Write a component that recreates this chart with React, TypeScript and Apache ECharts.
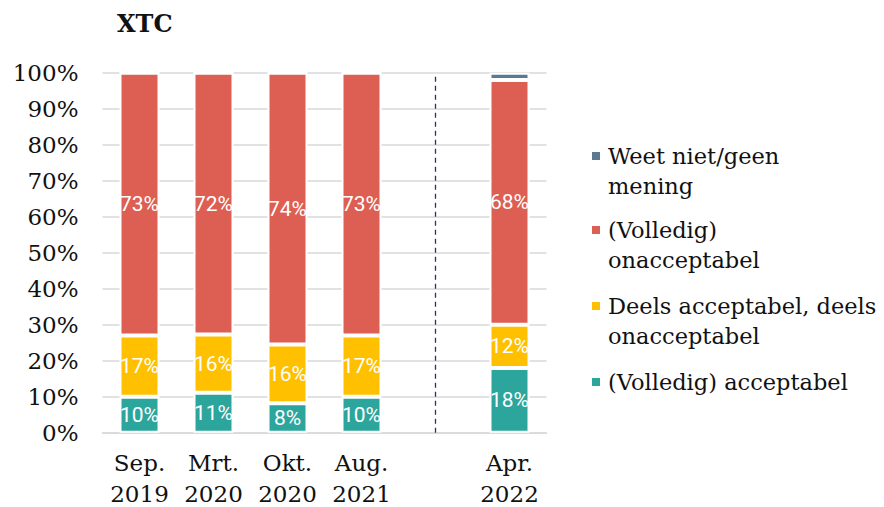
import React, { useEffect, useRef } from "react";
import * as echarts from "echarts";

const categories = ["Sep.\n2019", "Mrt.\n2020", "Okt.\n2020", "Aug.\n2021", "", "Apr.\n2022"];
const acceptabel = [10, 11, 8, 10, null, 18];
const deels = [17, 16, 16, 17, null, 12];
const onacceptabel = [73, 72, 74, 73, null, 68];
const weetNiet = [0, 0, 0, 0, null, 2];
const yTicks = [0, 10, 20, 30, 40, 50, 60, 70, 80, 90, 100];

const seriesNames = [
  "(Volledig) acceptabel",
  "Deels acceptabel, deels onacceptabel",
  "(Volledig) onacceptabel",
  "Weet niet/geen mening",
];
const legendLabels: Record<string, string> = {
  "Weet niet/geen mening": "Weet niet/geen\nmening",
  "(Volledig) onacceptabel": "(Volledig)\nonacceptabel",
  "Deels acceptabel, deels onacceptabel": "Deels acceptabel, deels\nonacceptabel",
  "(Volledig) acceptabel": "(Volledig) acceptabel",
};
const colors = ["#2ca59c", "#ffc000", "#dd5e52", "#5b7a91"];

const SERIF = "'DejaVu Serif', 'Liberation Serif', serif";

export default function App() {
  const ref = useRef<HTMLDivElement>(null);
  useEffect(() => {
    document.body.style.margin = "0";
    if (!ref.current) return;
    const chart = echarts.init(ref.current, null, { renderer: "svg" });
    const raw = [acceptabel, deels, onacceptabel, weetNiet];
    const totals = categories.map((_, i) =>
      raw.reduce((s, arr) => s + (arr[i] ?? 0), 0)
    );
    const series = raw.map((arr, si) => ({
      name: seriesNames[si],
      type: "bar",
      stack: "total",
      barWidth: 40,
      itemStyle: { color: colors[si], borderColor: "#ffffff", borderWidth: 2 },
      data: arr.map((v, i) => (v == null || totals[i] === 0 ? null : (v / totals[i]) * 100)),
      label: {
        show: si < 3,
        position: "inside",
        color: "#ffffff",
        fontFamily: "Roboto, 'Open Sans', sans-serif",
        fontSize: 21,
        formatter: (p: any) => {
          const v = arr[p.dataIndex];
          return v ? `${v}%` : "";
        },
      },
      markLine:
        si === 0
          ? {
              silent: true,
              symbol: "none",
              label: { show: false },
              lineStyle: { color: "#2a3060", type: [5, 4], width: 1.3 },
              data: [{ xAxis: 4 }],
            }
          : undefined,
    }));
    const legendTops = [111, 185, 261, 367];
    const legendOrder = [3, 2, 1, 0];
    const legends = legendOrder.map((si, k) => {
      const name = seriesNames[si];
      const twoLine = legendLabels[name].includes("\n");
      return {
        left: 590,
        top: legendTops[k],
        padding: 0,
        orient: "vertical",
        itemWidth: 10,
        itemHeight: 10,
        icon: "rect",
        data: [{ name, itemStyle: { color: colors[si] } }],
        formatter: (n: string) => (twoLine ? "\n" : "") + legendLabels[n],
        textStyle: {
          fontFamily: SERIF,
          fontSize: 22.5,
          lineHeight: 30,
          color: "#111111",
          padding: [0, 0, 0, 2],
        },
      };
    });
    chart.setOption({
      animation: false,
      title: {
        text: "XTC",
        left: 117,
        top: 11,
        padding: 0,
        textStyle: { fontFamily: SERIF, fontWeight: "bold", fontSize: 24, color: "#111111" },
      },
      legend: legends,
      grid: { left: 102.5, right: 337.5, top: 72.7, bottom: 74.3, containLabel: false, outerBoundsMode: "none" },
      xAxis: {
        type: "category",
        data: categories,
        axisTick: { show: false },
        axisLine: { lineStyle: { color: "#d9d9d9", width: 1.5 } },
        axisLabel: {
          interval: 0,
          margin: 15,
          fontFamily: SERIF,
          fontSize: 23,
          lineHeight: 31,
          color: "#111111",
        },
      },
      yAxis: {
        type: "value",
        min: yTicks[0],
        max: yTicks[yTicks.length - 1],
        interval: yTicks[1] - yTicks[0],
        axisLine: { show: false },
        axisTick: { show: false },
        splitLine: { lineStyle: { color: "#d9d9d9", width: 1.5 } },
        axisLabel: {
          margin: 24,
          formatter: "{value}%",
          fontFamily: SERIF,
          fontSize: 23,
          color: "#111111",
        },
      },
      series,
    });
    return () => chart.dispose();
  }, []);
  return <div ref={ref} style={{ width: 884, height: 507 }} />;
}
